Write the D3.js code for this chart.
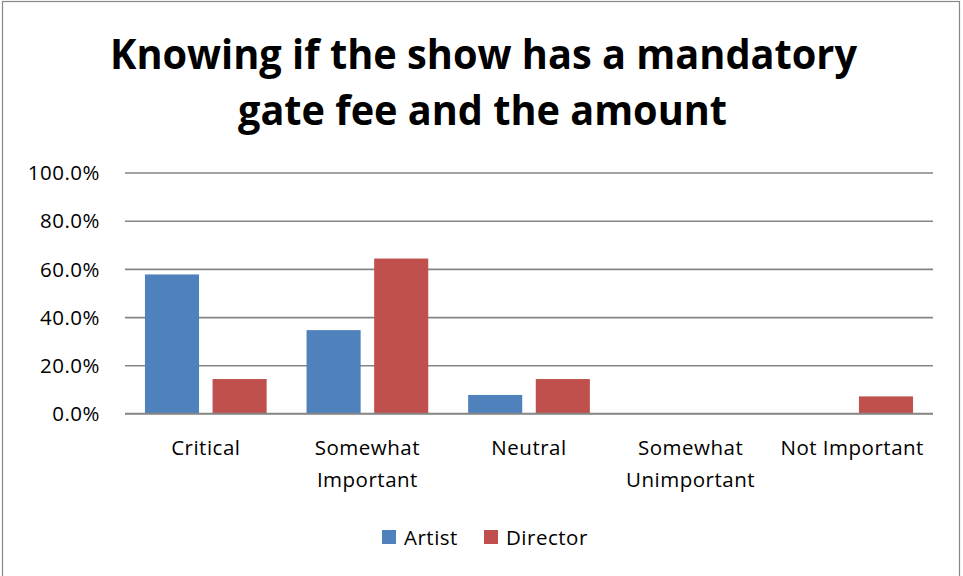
<!DOCTYPE html>
<html>
<head>
<meta charset="utf-8">
<script src="https://cdn.jsdelivr.net/npm/d3@7"></script>
<style>
  html, body { margin: 0; padding: 0; background: #fff; }
  svg { display: block; }
  text { font-family: "Open Sans", "Liberation Sans", sans-serif; fill: #000; }
</style>
</head>
<body>
<svg id="chart" width="963" height="576"></svg>
<script>
// Survey answers (share of respondents)
const categories = ["Critical", "Somewhat Important", "Neutral", "Somewhat Unimportant", "Not Important"];
const categoryLines = [["Critical"], ["Somewhat", "Important"], ["Neutral"], ["Somewhat", "Unimportant"], ["Not Important"]];
const seriesNames = ["Artist", "Director"];
const artistValues = [0.577, 0.346, 0.077, 0, 0];
const directorValues = [0.143, 0.643, 0.143, 0, 0.071];
const yTicks = [0, 0.2, 0.4, 0.6, 0.8, 1.0];
const titleLines = ["Knowing if the show has a mandatory", "gate fee and the amount"];
const colors = { Artist: "#4F81BD", Director: "#C0504D" };

const svg = d3.select("#chart");
const W = 963, H = 576;
const labelSize = 20.5, labelSpacing = 0.5;

// outer chart frame
svg.append("rect")
  .attr("x", 2.5).attr("y", 1.5).attr("width", 957).attr("height", H + 10)
  .attr("fill", "#fff").attr("stroke", "#878787").attr("stroke-width", 1.2);

// title
const title = svg.append("g");
title.selectAll("text").data(titleLines).join("text")
  .attr("x", (d, i) => i === 0 ? 110 : 238)
  .attr("y", (d, i) => i === 0 ? 69 : 125)
  .attr("textLength", (d, i) => i === 0 ? 747 : 489)
  .attr("lengthAdjust", "spacingAndGlyphs")
  .attr("font-size", 42)
  .attr("font-weight", "bold")
  .text(d => d);

const plot = { left: 125, right: 933, top: 172.5, bottom: 413.5 };

const x0 = d3.scaleBand().domain(categories).range([plot.left, plot.right]).paddingInner(0).paddingOuter(0);
const x1 = d3.scaleBand().domain(seriesNames).range([0, x0.bandwidth()]).paddingInner(0.2).paddingOuter(0.295);
const y = d3.scaleLinear().domain([0, 1]).range([plot.bottom, plot.top]);

// gridlines and value axis
const yAxis = d3.axisLeft(y).tickValues(yTicks).tickFormat(d3.format(".1%"))
  .tickSize(-(plot.right - plot.left)).tickPadding(25);
const gy = svg.append("g").attr("transform", `translate(${plot.left},0)`).call(yAxis);
gy.select(".domain").remove();
gy.selectAll(".tick line").attr("stroke", "#868686").attr("stroke-width", 1.6);
gy.selectAll(".tick text").attr("font-size", labelSize).attr("dy", "0.35em")
  .attr("letter-spacing", labelSpacing)
  .style("font-family", "'Open Sans', 'Liberation Sans', sans-serif").attr("fill", "#000");

// bars
const rows = categories.map((c, i) => ({ cat: c, Artist: artistValues[i], Director: directorValues[i] }));
const groups = svg.append("g").selectAll("g").data(rows).join("g")
  .attr("transform", d => `translate(${x0(d.cat)},0)`);
groups.selectAll("rect")
  .data(d => seriesNames.map(s => ({ s, v: d[s] })).filter(e => e.v > 0))
  .join("rect")
  .attr("x", d => x1(d.s))
  .attr("width", x1.bandwidth())
  .attr("y", d => y(d.v))
  .attr("height", d => y(0) - y(d.v))
  .attr("fill", d => colors[d.s]);

// baseline
svg.append("line")
  .attr("x1", plot.left).attr("x2", plot.right)
  .attr("y1", y(0)).attr("y2", y(0))
  .attr("stroke", "#868686").attr("stroke-width", 1.6);

// category labels
const catG = svg.append("g");
categories.forEach((c, i) => {
  const cx = x0(c) + x0.bandwidth() / 2;
  catG.append("text")
    .attr("x", cx).attr("y", 455)
    .attr("text-anchor", "middle").attr("font-size", labelSize)
    .attr("letter-spacing", labelSpacing)
    .selectAll("tspan").data(categoryLines[i]).join("tspan")
    .attr("x", cx).attr("dy", (d, j) => j === 0 ? 0 : 32)
    .text(d => d);
});

// legend
const legend = svg.append("g");
const legendItems = [{ s: "Artist", x: 382 }, { s: "Director", x: 484 }];
legendItems.forEach(it => {
  legend.append("rect").attr("x", it.x).attr("y", 530).attr("width", 14).attr("height", 14)
    .attr("fill", colors[it.s]);
  legend.append("text").attr("x", it.x + 22).attr("y", 545).attr("font-size", labelSize)
    .attr("letter-spacing", labelSpacing).text(it.s);
});
</script>
</body>
</html>
